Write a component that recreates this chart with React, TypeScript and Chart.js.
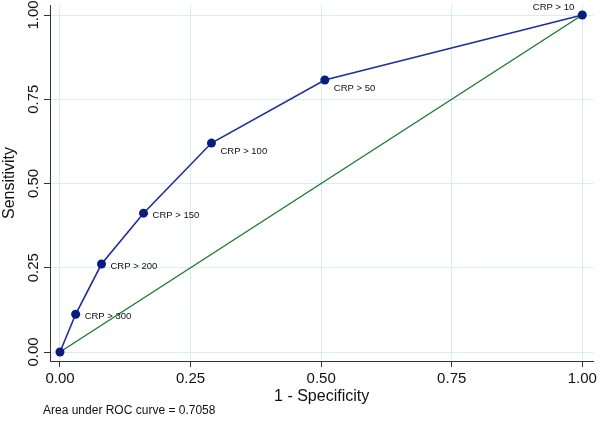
import React, { useEffect, useRef } from "react";
import { Chart, registerables } from "chart.js";

Chart.register(...registerables);

// 1 - specificity (false positive rate) for each CRP cut-off
const fpr = [0, 0.03, 0.0795, 0.16, 0.29, 0.507, 1];
// Sensitivity for each CRP cut-off
const tpr = [0, 0.112, 0.261, 0.412, 0.62, 0.807, 1];
// Cut-off labels
const cutLabels = ["", "CRP > 300", "CRP > 200", "CRP > 150", "CRP > 100", "CRP > 50", "CRP > 10"];
// Stata-style clock position for each marker label
const labelClock = [3, 3, 3, 3, 4, 4, 11];
// Reference (chance) line
const refX = [0, 1];
const refY = [0, 1];
// Axis ticks
const tickValues = [0, 0.25, 0.5, 0.75, 1];
const xTitle = "1 - Specificity";
const yTitle = "Sensitivity";
const note = "Area under ROC curve = 0.7058";

const FONT = "'Liberation Sans', Arial, Helvetica, sans-serif";

const labelPlugin = {
  id: "markerLabels",
  afterDatasetsDraw(chart: any) {
    const { ctx, scales } = chart;
    const xs = scales.x;
    const ys = scales.y;
    ctx.save();
    ctx.font = `9.5px ${FONT}`;
    ctx.fillStyle = "#111";
    ctx.textBaseline = "middle";
    for (let i = 0; i < fpr.length; i++) {
      const t = cutLabels[i];
      if (!t) continue;
      const px = xs.getPixelForValue(fpr[i]);
      const py = ys.getPixelForValue(tpr[i]);
      const c = labelClock[i];
      if (c === 11) {
        ctx.textAlign = "right";
        ctx.fillText(t, px - 8, py - 8);
      } else if (c === 4) {
        ctx.textAlign = "left";
        ctx.fillText(t, px + 9, py + 8);
      } else {
        ctx.textAlign = "left";
        ctx.fillText(t, px + 9, py + 2);
      }
    }
    ctx.restore();
  },
  afterDraw(chart: any) {
    const { ctx } = chart;
    ctx.save();
    ctx.font = `12px ${FONT}`;
    ctx.fillStyle = "#111";
    ctx.textAlign = "left";
    ctx.textBaseline = "middle";
    ctx.fillText(note, 43, 411);
    ctx.restore();
  },
};

export default function App() {
  const ref = useRef<HTMLCanvasElement>(null);
  useEffect(() => {
    document.body.style.margin = "0";
    const ctx = ref.current!.getContext("2d")!;
    const roc = fpr.map((x, i) => ({ x, y: tpr[i] }));
    const diag = refX.map((x, i) => ({ x, y: refY[i] }));
    const chart = new Chart(ctx, {
      type: "scatter",
      data: {
        datasets: [
          {
            data: roc,
            showLine: true,
            borderColor: "#1f2e9c",
            borderWidth: 1.6,
            backgroundColor: "#0b1c80",
            pointBackgroundColor: "#0b1c80",
            pointBorderColor: "#0b1c80",
            pointRadius: 4.5,
            pointBorderWidth: 0,
          },
          {
            data: diag,
            showLine: true,
            borderColor: "#1a7a30",
            borderWidth: 1.4,
            pointRadius: 0,
          },
        ],
      },
      options: {
        animation: false,
        responsive: false,
        layout: { padding: { top: 5, right: 5, left: 0, bottom: 0 } },
        plugins: { legend: { display: false }, tooltip: { enabled: false } },
        scales: {
          x: {
            type: "linear",
            min: -0.0191,
            max: 1.021,
            afterFit: (s: any) => {
              s.height = 62;
            },
            afterBuildTicks: (s: any) => {
              s.ticks = tickValues.map((v) => ({ value: v }));
            },
            ticks: {
              callback: (v: any) => Number(v).toFixed(2),
              font: { family: FONT, size: 15 },
              color: "#111",
              padding: 3,
              maxRotation: 0,
              minRotation: 0,
            },
            grid: {
              color: "#d6efea",
              lineWidth: 1,
              tickColor: "#333",
              tickLength: 6,
            },
            border: { color: "#333", width: 1 },
            title: {
              display: true,
              text: xTitle,
              font: { family: FONT, size: 16 },
              color: "#111",
              padding: { top: 0, bottom: 17 },
            },
          },
          y: {
            type: "linear",
            min: -0.0267,
            max: 1.0297,
            afterFit: (s: any) => {
              s.width = 50;
            },
            afterBuildTicks: (s: any) => {
              s.ticks = tickValues.map((v) => ({ value: v }));
            },
            ticks: {
              callback: (v: any) => Number(v).toFixed(2),
              font: { family: FONT, size: 15 },
              color: "#111",
              padding: -4,
              minRotation: 90,
              maxRotation: 90,
              crossAlign: "center",
            },
            grid: {
              color: "#d6efea",
              lineWidth: 1,
              tickColor: "#333",
              tickLength: 6,
            },
            border: { color: "#333", width: 1 },
            title: {
              display: true,
              text: yTitle,
              font: { family: FONT, size: 16 },
              color: "#111",
              padding: { top: 0, bottom: 0 },
            },
          },
        },
      },
      plugins: [labelPlugin],
    });
    return () => chart.destroy();
  }, []);
  return (
    <div style={{ width: 600, height: 423, background: "#fff" }}>
      <canvas ref={ref} width={600} height={423} style={{ display: "block" }} />
    </div>
  );
}
